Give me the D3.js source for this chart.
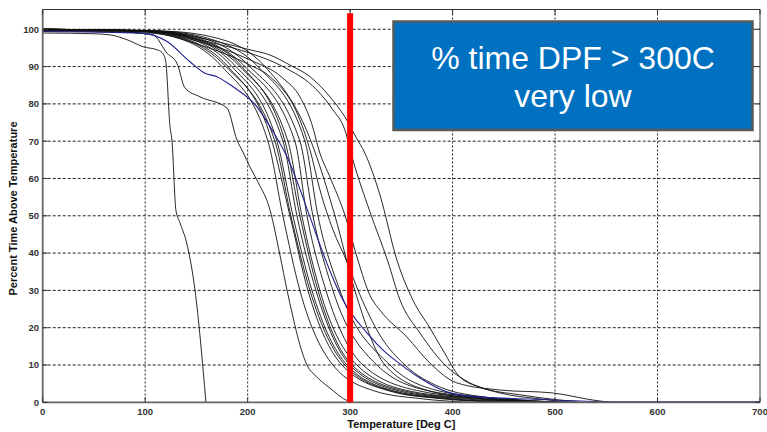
<!DOCTYPE html>
<html><head><meta charset="utf-8">
<script src="https://cdn.jsdelivr.net/npm/d3@7"></script>
<style>html,body{margin:0;padding:0;background:#fff;}svg{display:block;}</style>
</head><body><svg id="c" width="767" height="432"></svg>
<script>
// ---------- data ----------
const xTicks = [0,100,200,300,400,500,600,700];
const yTicks = [0,10,20,30,40,50,60,70,80,90,100];
const xLabel = "Temperature [Deg C]";
const yLabel = "Percent Time Above Temperature";
const boxLines = ["% time DPF > 300C", "very low"];
const markerTemp = 300;

// percent levels for bundle curves (temperature read at each level)
const levels = [100, 99.5, 97, 90, 70, 50, 30, 10, 3, 1, 0];
const c1  = [0, 90, 138.8, 174.9, 219.8, 234.4, 251.0, 283.2, 324.2, 368.1, 416.9];
const c2  = [0, 95, 143.7, 180.8, 223.7, 241.3, 258.8, 292.0, 338.8, 387.6, 446.1];
const c3  = [0, 100, 148.6, 184.7, 228.6, 244.2, 262.7, 296.9, 343.7, 397.4, 465.7];
const c4  = [0, 100, 151.5, 188.6, 234.4, 248.1, 266.6, 299.8, 348.6, 407.1, 485.2];
const c5  = [0, 105, 153.5, 192.5, 239.3, 252.9, 270.5, 306.6, 358.3, 426.6, 504.7];
const c6  = [0, 110, 158.3, 197.4, 246.1, 257.9, 276.4, 312.5, 368.1, 436.4, 514.4];
const c7  = [0, 110, 163.2, 202.2, 251.0, 263.7, 283.2, 326.1, 377.9, 446.1, 504.7];
const c8  = [0, 115, 168.1, 210.0, 255.9, 268.6, 290.0, 338.8, 387.6, 446.1, 504.7];
const c9  = [0, 120, 177.9, 216.9, 261.8, 285.2, 304.6, 334.0, 377.9, 426.6, 485.2];
const c10 = [0, 95, 141.7, 178.8, 226.6, 242.2, 260.8, 294.9, 340.8, 392.5, 455.9];
const c11 = [0, 105, 155.4, 194.4, 236.4, 251.0, 268.6, 301.8, 353.5, 416.9, 494.9];

// individually traced curves: temperature / percent pairs
const curveA_T = [0, 50, 65.7, 85, 98, 111.5, 116.4, 120, 124.2, 126.1, 130, 134, 140.5, 148.6, 159.3];
const curveA_P = [99.0, 98.8, 98.5, 96.9, 95.3, 94.5, 93.8, 91.5, 74, 70.3, 51.5, 48.1, 42.7, 30.1, 0];

const curveB_T = [0, 75.4, 107.6, 121.3, 131.0, 138.8, 153.5, 179.8, 189.6, 195.4, 202.2, 210.0, 221.8, 231.5, 238.4, 244.2, 251.0, 258.8, 265.6, 280.3, 297.9, 301.8];
const curveB_P = [99.8, 99.3, 98.5, 93.6, 90.9, 84.3, 81.9, 78.9, 70.3, 67.1, 63.1, 59.1, 51.6, 39.5, 30.1, 22.9, 15.4, 9.5, 7.3, 3.8, 0.35, 0];

const curveR1_T = [0, 104.7, 153.5, 202.2, 221.8, 241.3, 260.8, 280.3, 294.9, 305.7, 314.4, 329.1, 345.7, 361.3, 377.9, 390.5, 407.1, 426.6, 465.7, 504.7, 524.2];
const curveR1_P = [99.9, 99.7, 97.7, 94.5, 93.1, 90.4, 87.3, 81.9, 76.5, 71.1, 66.8, 55.6, 38.1, 27.4, 19.9, 14.0, 6.8, 4.1, 2.0, 0.6, 0];

const curveR2_T = [0, 104.7, 153.5, 202.2, 234.4, 267.6, 283.2, 294.9, 302.7, 319.3, 336.9, 348.6, 368.1, 394.5, 416.9, 446.1, 485.2, 514.4];
const curveR2_P = [99.8, 99.5, 97.1, 93.6, 90.0, 83.7, 78.4, 73.0, 65.0, 51.1, 37.7, 27.5, 18.6, 9.5, 5.2, 2.5, 0.9, 0];

const curveR3_T = [0, 104.7, 153.5, 202.2, 234.4, 251.0, 262.4, 270.5, 280.3, 294.9, 307.6, 319.3, 329.1, 355.4, 377.9, 404.2, 446.1, 497.9, 536.9, 553.5];
const curveR3_P = [99.7, 99.3, 96.6, 91.8, 86.9, 81.9, 74.8, 66.8, 60.4, 50.2, 38.1, 28.7, 24.7, 17.5, 10.5, 5.2, 3.3, 2.5, 0.6, 0];

const curveR4_T = [0, 104.7, 153.5, 202.2, 221.8, 251.0, 260.8, 270.5, 283.2, 296.9, 309.6, 329.1, 353.5, 387.6, 436.4, 475.4];
const curveR4_P = [99.5, 99.0, 95.8, 90.4, 87.3, 75.7, 67.7, 57.0, 46.3, 37.7, 28.8, 18.0, 10.0, 4.1, 1.2, 0];

const blue_T = [0, 97.9, 121.3, 143.7, 158.3, 170.0, 185.7, 209.1, 221.8, 238.4, 260.8, 273.5, 293.0, 316.4, 334.0, 348.6, 368.1, 394.4, 426.6, 475.4, 524.2, 553.5, 700];
const blue_P = [99.4, 98.9, 96.7, 91.3, 88.2, 87.3, 84.6, 79.2, 73.9, 65.8, 49.7, 40.0, 27.4, 18.6, 13.5, 10.3, 6.5, 2.8, 1.4, 0.9, 0.35, 0.15, 0.15];

// ---------- chart ----------
const svg = d3.select("#c");
const x = d3.scaleLinear().domain([0, 700]).range([42.7, 760]);
const y = d3.scaleLinear().domain([0, 105.3]).range([402.3, 9.5]);
const L = x(0), R = x(700), B = y(0), T = y(105.3);

svg.append("rect").attr("width", 767).attr("height", 432).attr("fill", "#fff");

// grid
const grid = svg.append("g");
grid.selectAll(".vg").data(xTicks.slice(1, -1)).join("line")
  .attr("x1", d => x(d)).attr("x2", d => x(d)).attr("y1", T).attr("y2", B)
  .attr("stroke", "#222").attr("stroke-width", 1).attr("stroke-dasharray", "2,2");
grid.selectAll(".hg").data(yTicks.slice(1)).join("line")
  .attr("x1", L).attr("x2", R).attr("y1", d => y(d)).attr("y2", d => y(d))
  .attr("stroke", "#222").attr("stroke-width", 1).attr("stroke-dasharray", "3,2");

svg.append("clipPath").attr("id", "clip").append("rect")
  .attr("x", L).attr("y", T).attr("width", R - L).attr("height", B - T);

const line = d3.line().x(d => x(d[0])).y(d => y(d[1])).curve(d3.curveMonotoneX);
const fromLevels = arr => arr.map((t, i) => [t, levels[i]]);
const fromPairs = (ts, ps) => ts.map((t, i) => [t, ps[i]]);

const blackSeries = [
  fromLevels(c1), fromLevels(c2), fromLevels(c3), fromLevels(c4), fromLevels(c5),
  fromLevels(c6), fromLevels(c7), fromLevels(c8), fromLevels(c9), fromLevels(c10), fromLevels(c11),
  fromPairs(curveA_T, curveA_P), fromPairs(curveB_T, curveB_P),
  fromPairs(curveR1_T, curveR1_P), fromPairs(curveR2_T, curveR2_P),
  fromPairs(curveR3_T, curveR3_P), fromPairs(curveR4_T, curveR4_P)
];
const gl = svg.append("g").attr("clip-path", "url(#clip)");
gl.selectAll(".bk").data(blackSeries).join("path")
  .attr("d", line).attr("fill", "none").attr("stroke", "#111").attr("stroke-width", 0.9);
gl.append("path").datum(fromPairs(blue_T, blue_P))
  .attr("d", line).attr("fill", "none").attr("stroke", "#1f1f8f").attr("stroke-width", 1.1);

// box borders and ticks
svg.append("line").attr("x1", L).attr("x2", R).attr("y1", T).attr("y2", T).attr("stroke", "#333").attr("stroke-width", 1);
svg.append("line").attr("x1", R).attr("x2", R).attr("y1", T).attr("y2", B).attr("stroke", "#333").attr("stroke-width", 1);
svg.append("line").attr("x1", L).attr("x2", L).attr("y1", T).attr("y2", B).attr("stroke", "#666").attr("stroke-width", 1.8);
svg.append("line").attr("x1", L).attr("x2", R).attr("y1", B).attr("y2", B).attr("stroke", "#666").attr("stroke-width", 1.8);
const tk = svg.append("g").attr("stroke", "#333").attr("stroke-width", 1);
xTicks.forEach(d => {
  tk.append("line").attr("x1", x(d)).attr("x2", x(d)).attr("y1", B).attr("y2", B - 5);
  tk.append("line").attr("x1", x(d)).attr("x2", x(d)).attr("y1", T).attr("y2", T + 5);
});
yTicks.forEach(d => {
  tk.append("line").attr("x1", L).attr("x2", L + 5).attr("y1", y(d)).attr("y2", y(d));
  tk.append("line").attr("x1", R).attr("x2", R - 5).attr("y1", y(d)).attr("y2", y(d));
});

// tick labels
const font = "'Liberation Sans', Arial, sans-serif";
svg.selectAll(".xl").data(xTicks).join("text")
  .attr("x", d => x(d)).attr("y", 415).attr("text-anchor", "middle")
  .attr("font-family", font).attr("font-weight", "bold").attr("font-size", 9.5).attr("fill", "#333")
  .text(d => d);
svg.selectAll(".yl").data(yTicks).join("text")
  .attr("x", 39).attr("y", d => y(d)).attr("dy", "0.35em").attr("text-anchor", "end")
  .attr("font-family", font).attr("font-weight", "bold").attr("font-size", 9.5).attr("fill", "#333")
  .text(d => d);

svg.append("text").attr("x", (L + R) / 2).attr("y", 428).attr("text-anchor", "middle")
  .attr("font-family", font).attr("font-weight", "bold").attr("font-size", 11).attr("fill", "#111")
  .text(xLabel);
svg.append("text").attr("transform", "translate(16.5,208.5) rotate(-90)").attr("text-anchor", "middle")
  .attr("font-family", font).attr("font-weight", "bold").attr("font-size", 11).attr("fill", "#111")
  .text(yLabel);

// red marker
svg.append("line").attr("x1", x(markerTemp)).attr("x2", x(markerTemp))
  .attr("y1", y(104.3)).attr("y2", B).attr("stroke", "#ff0000").attr("stroke-width", 6);

// annotation box
svg.append("rect").attr("x", 393.5).attr("y", 21.5).attr("width", 359).attr("height", 108.5)
  .attr("fill", "#0070c0").attr("stroke", "#595959").attr("stroke-width", 2.5);
svg.selectAll(".bt").data(boxLines).join("text")
  .attr("x", 573).attr("y", (d, i) => 69 + i * 38.3).attr("text-anchor", "middle")
  .attr("font-family", font).attr("font-size", 32).attr("fill", "#fff")
  .text(d => d);
</script></body></html>
